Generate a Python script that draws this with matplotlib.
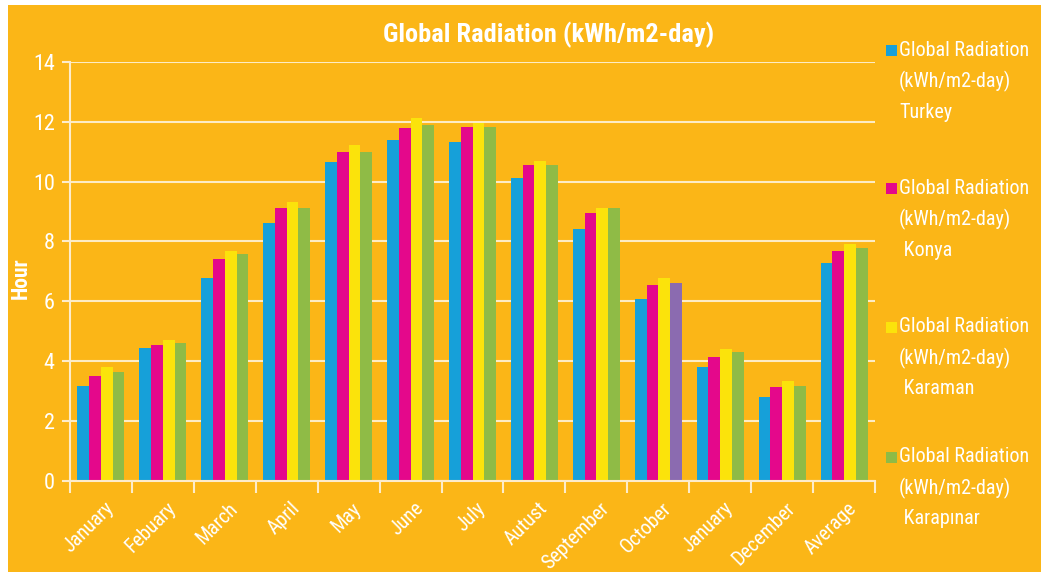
import numpy as np
import matplotlib.pyplot as plt
from matplotlib import font_manager as fm
from matplotlib.patches import Rectangle
from matplotlib import transforms

months = ["January", "Febuary", "March", "April", "May", "June", "July",
          "Autust", "September", "October", "January", "December", "Average"]

turkey = [3.17, 4.43, 6.77, 8.61, 10.65, 11.39, 11.34, 10.13, 8.42, 6.08, 3.79, 2.81, 7.27]
konya = [3.50, 4.53, 7.40, 9.11, 10.99, 11.79, 11.84, 10.54, 8.94, 6.53, 4.13, 3.12, 7.68]
karaman = [3.79, 4.71, 7.68, 9.33, 11.22, 12.14, 11.95, 10.70, 9.11, 6.77, 4.42, 3.33, 7.91]
karapinar = [3.62, 4.59, 7.57, 9.11, 10.99, 11.90, 11.84, 10.54, 9.11, 6.60, 4.30, 3.17, 7.79]

series_names = ["Turkey", "Konya", "Karaman", "Karapınar"]
series_label = ["Global Radiation", "(kWh/m2-day)"]

BG = "#fbb617"
COLORS = ["#16a0d9", "#e4088b", "#fbe30b", "#8fbb46"]
PURPLE = "#8b6bb0"
LINE = "#fdeccb"


def pick_font():
    # narrow face if the system has one
    fonts = fm.fontManager.ttflist
    names = {f.name for f in fonts}
    for n in ["Liberation Sans Narrow", "Roboto Condensed", "Open Sans Condensed",
              "Noto Sans Condensed", "DejaVu Sans Condensed"]:
        if n in names:
            return n, "normal"
    narrow = ("condensed", "semi-condensed", "extra-condensed", "ultra-condensed")
    for n in ["Noto Sans", "DejaVu Sans", "Roboto", "Open Sans"]:
        for f in fonts:
            st = f.stretch
            if f.name == n and (st in narrow or (isinstance(st, int) and st < 500)):
                return n, "condensed"
    return "Liberation Sans", "normal"


family, stretch = pick_font()
plt.rcParams["font.family"] = [family, "DejaVu Sans"]
plt.rcParams["font.stretch"] = stretch

fig = plt.figure(figsize=(10.41, 5.72), dpi=100, facecolor="white")
fig.patches.append(Rectangle((8 / 1041, 0), 1, 1 - 5 / 572, transform=fig.transFigure,
                             facecolor=BG, edgecolor="none", zorder=-10))

ax = fig.add_axes([70 / 1041, 91.3 / 572, 805 / 1041, 418.7 / 572])
ax.set_facecolor("none")

x = np.arange(len(months))
w = 0.19
data = [turkey, konya, karaman, karapinar]
for i, vals in enumerate(data):
    cols = [COLORS[i]] * len(months)
    if i == 3:
        cols[9] = PURPLE  # October bar drawn in purple
    ax.bar(x + (i - 1.5) * w, vals, width=w, color=cols, zorder=3, linewidth=0)

ax.set_xlim(-0.5, len(months) - 0.5)
ax.set_ylim(0, 14)
ax.set_yticks(np.arange(0, 15, 2))
ax.grid(axis="y", color="white", alpha=0.75, linewidth=1.5, zorder=1)

for side in ["top", "right"]:
    ax.spines[side].set_visible(False)
for side in ["left", "bottom"]:
    ax.spines[side].set_color(LINE)
    ax.spines[side].set_linewidth(1.5)
    ax.spines[side].set_zorder(4)

# tick marks between the groups, labels under each group
ax.set_xticks(np.arange(-0.5, len(months), 1))
ax.tick_params(axis="x", which="major", labelbottom=False, length=8.5, width=1.5, color=LINE)
ax.set_xticks(x, minor=True)
ax.set_xticklabels(months, minor=True, rotation=45, ha="right", va="top",
                   rotation_mode="anchor", fontsize=14.5, color="white")
ax.tick_params(axis="x", which="minor", length=0, pad=13)
offset = transforms.ScaledTranslation(3 / 100, 0, fig.dpi_scale_trans)
for lbl in ax.xaxis.get_minorticklabels():
    lbl.set_transform(lbl.get_transform() + offset)

ax.tick_params(axis="y", length=6, width=1.5, color=LINE, labelsize=16,
               labelcolor="white", pad=5)

ax.set_ylabel("Hour", color="white", fontsize=15.5, fontweight="bold")
ax.yaxis.set_label_coords(-0.048, 0.484)

fig.text(549 / 1041, 1 - 35 / 572, "Global Radiation (kWh/m2-day)", color="white",
         fontsize=19, fontweight="bold", ha="center", va="center")

# legend on the right, one block per series
first_rows = [50, 188, 327, 457]
for i, name in enumerate(series_names):
    y0 = first_rows[i]
    fig.patches.append(Rectangle((886 / 1041, 1 - (y0 + 6) / 572), 11 / 1041, 11 / 572,
                                 transform=fig.transFigure, facecolor=COLORS[i],
                                 edgecolor="none"))
    lines = series_label + [name if i == 0 else " " + name]
    for j, line in enumerate(lines):
        fig.text(899 / 1041, 1 - (y0 + 31 * j) / 572, line, color="white",
                 fontsize=14.5, ha="left", va="center")

fig.savefig("out.png", dpi=100, facecolor=fig.get_facecolor())
